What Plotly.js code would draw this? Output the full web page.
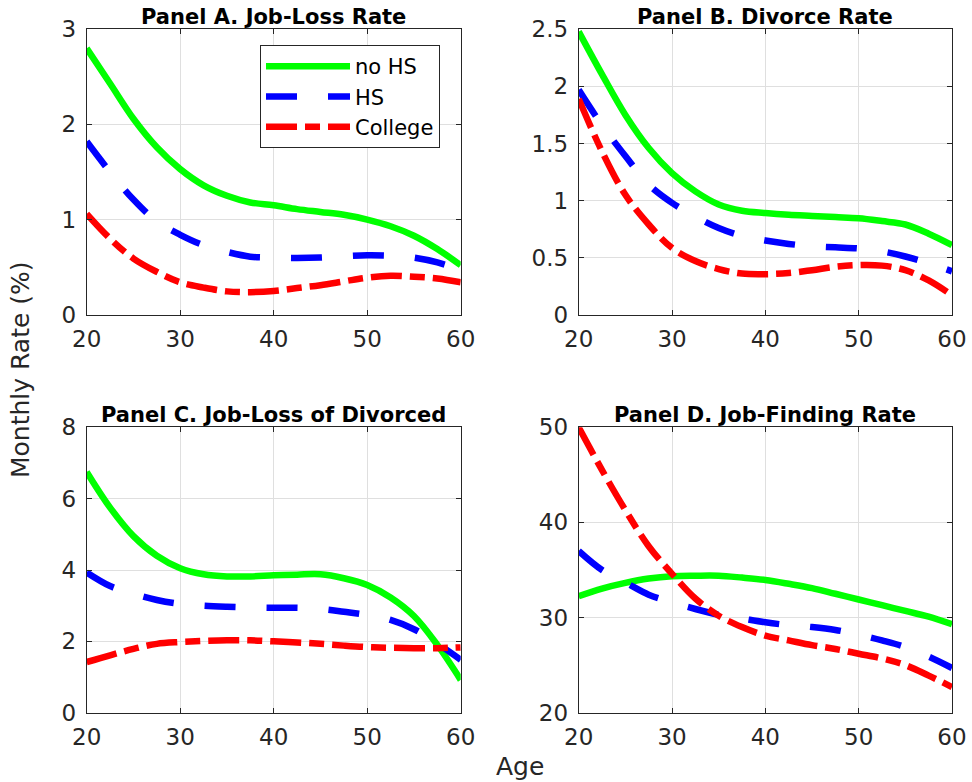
<!DOCTYPE html>
<html><head><meta charset="utf-8">
<script src="https://cdn.plot.ly/plotly-3.0.1.min.js"></script>
<style>html,body{margin:0;padding:0;background:#fff}#chart{width:972px;height:782px}</style>
</head><body><div id="chart"></div>
<script>
const ages = [20,22.5,25,27.5,30,32.5,35,37.5,40,42.5,45,47.5,50,52.5,55,57.5,60];
const seriesNames = ['no HS','HS','College'];
const panelTitles = ['Panel A. Job-Loss Rate','Panel B. Divorce Rate','Panel C. Job-Loss of Divorced','Panel D. Job-Finding Rate'];
const xTicks = [20,30,40,50,60];

// Panel A: job-loss rate
const jobLossNoHS   = [2.80,2.43,2.06,1.76,1.53,1.36,1.25,1.18,1.15,1.11,1.08,1.05,1.00,0.93,0.83,0.69,0.52];
const jobLossHS     = [1.82,1.50,1.21,0.98,0.84,0.73,0.66,0.61,0.60,0.595,0.60,0.615,0.625,0.62,0.60,0.55,0.47];
const jobLossCol    = [1.06,0.80,0.59,0.45,0.34,0.285,0.245,0.237,0.25,0.28,0.31,0.35,0.39,0.41,0.40,0.38,0.34];
// Panel B: divorce rate
const divorceNoHS   = [2.48,2.105,1.75,1.46,1.24,1.08,0.965,0.91,0.89,0.875,0.865,0.855,0.845,0.82,0.79,0.71,0.61];
const divorceHS     = [1.97,1.66,1.39,1.14,0.98,0.86,0.76,0.69,0.65,0.62,0.60,0.59,0.58,0.555,0.51,0.45,0.38];
const divorceCol    = [1.89,1.43,1.05,0.79,0.585,0.47,0.40,0.36,0.355,0.365,0.39,0.42,0.435,0.43,0.39,0.30,0.17];
// Panel C: job-loss of divorced
const jlDivNoHS     = [6.75,5.75,4.95,4.40,4.05,3.88,3.82,3.82,3.85,3.87,3.88,3.77,3.58,3.23,2.71,1.90,0.92];
const jlDivHS       = [3.93,3.55,3.33,3.16,3.05,3.00,2.97,2.95,2.94,2.94,2.91,2.83,2.74,2.60,2.34,1.94,1.48];
const jlDivCol      = [1.42,1.61,1.79,1.93,1.98,2.01,2.03,2.03,2.00,1.97,1.93,1.88,1.84,1.82,1.81,1.81,1.83];
// Panel D: job-finding rate
const jobFindNoHS   = [32.25,33.05,33.65,34.1,34.35,34.4,34.4,34.2,33.95,33.55,33.1,32.5,31.9,31.3,30.7,30.1,29.3];
const jobFindHS     = [37.0,35.0,33.7,32.4,31.6,30.9,30.3,29.9,29.5,29.2,29.0,28.7,28.2,27.6,26.9,25.9,24.7];
const jobFindCol    = [50.0,45.5,41.3,37.5,34.6,32.0,30.2,29.0,28.1,27.6,27.1,26.7,26.2,25.7,25.0,23.9,22.7];

const panels = [
  {data:[jobLossNoHS,jobLossHS,jobLossCol], range:[0,3], dtick:1},
  {data:[divorceNoHS,divorceHS,divorceCol], range:[0,2.5], dtick:0.5},
  {data:[jlDivNoHS,jlDivHS,jlDivCol], range:[0,8], dtick:2},
  {data:[jobFindNoHS,jobFindHS,jobFindCol], range:[20,50], dtick:10}
];
const colors = ['#00ff00','#0000ff','#ff0000'];
const dashes = ['solid','31px,31px','31px,8px,15px,8px'];

const W=972,H=782;
const xDom = [[86.7,460.7],[578.7,952]];
const yDom = [[29.3,314.7],[427.3,712.7]];
const txt = '#262626';
const FONT = 'DejaVu Sans, sans-serif';

const traces = [];
const layout = {
  width:W, height:H, margin:{l:0,r:0,t:0,b:0},
  paper_bgcolor:'#fff', plot_bgcolor:'#fff',
  font:{family:FONT, color:txt, size:23},
  showlegend:true,
  legend:{x:260/W, y:1-45/H, xanchor:'left', yanchor:'top', bgcolor:'#fff',
          bordercolor:txt, borderwidth:1, font:{size:21, color:'#000'}, itemwidth:84},
  annotations:[], 
};
panels.forEach((p,i)=>{
  const r = Math.floor(i/2), c = i%2;
  const ax = i===0?'':String(i+1);
  p.data.forEach((ys,k)=>{
    traces.push({x:ages, y:ys, type:'scatter', mode:'lines', name:seriesNames[k],
      xaxis:'x'+ax, yaxis:'y'+ax, showlegend:i===0,
      line:{color:colors[k], width:6.5, dash:dashes[k], shape:'spline', smoothing:1}});
  });
  const common = {showline:true, linecolor:txt, linewidth:1, mirror:'ticks', ticks:'inside',
    ticklen:5, tickcolor:txt, showgrid:true, gridcolor:'#dfdfdf', gridwidth:1, zeroline:false,
    tickfont:{family:FONT, size:23, color:txt}};
  layout['xaxis'+ax] = Object.assign({}, common, {domain:[xDom[c][0]/W, xDom[c][1]/W],
    range:[20,60], tickvals:xTicks, anchor:'y'+ax, ticklabelstandoff:4});
  layout['yaxis'+ax] = Object.assign({}, common, {domain:[1-yDom[r][1]/H, 1-yDom[r][0]/H],
    range:p.range, dtick:p.dtick, tick0:0, anchor:'x'+ax, ticklabelstandoff:5});
  layout.annotations.push({text:'<b>'+panelTitles[i]+'</b>', xref:'paper', yref:'paper',
    x:(xDom[c][0]+xDom[c][1])/2/W, y:1-(yDom[r][0]-12)/H, xanchor:'center', yanchor:'middle',
    showarrow:false, font:{family:FONT, size:21, color:'#000'}});
});
layout.annotations.push({text:'Monthly Rate (%)', xref:'paper', yref:'paper', x:20/W, y:1-370/H,
  textangle:-90, showarrow:false, xanchor:'center', yanchor:'middle', font:{family:FONT,size:25,color:txt}});
layout.annotations.push({text:'Age', xref:'paper', yref:'paper', x:520/W, y:1-766/H,
  showarrow:false, xanchor:'center', yanchor:'middle', font:{family:FONT,size:25,color:txt}});

Plotly.newPlot('chart', traces, layout, {staticPlot:true});
</script></body></html>
